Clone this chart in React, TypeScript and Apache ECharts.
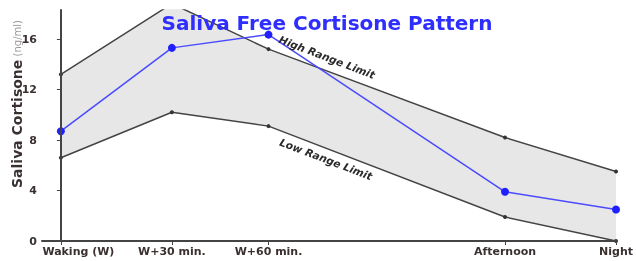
import React, { useEffect, useRef } from "react";
import * as echarts from "echarts";

const categories = ["Waking (W)", "W+30 min.", "W+60 min.", "Afternoon", "Night"];
const xPositions = [0, 1, 1.87, 4.0, 5.0];
const highLimit = [13.2, 18.8, 15.2, 8.2, 5.5];
const lowLimit = [6.6, 10.2, 9.1, 1.9, 0];
const patient = [8.7, 15.3, 16.35, 3.9, 2.5];
const yTicks = [0, 4, 8, 12, 16];

export default function App() {
  const ref = useRef<HTMLDivElement>(null);
  useEffect(() => {
    document.body.style.margin = "0";
    const chart = echarts.init(ref.current!, null, { renderer: "svg" });
    const pts = (vals: number[]) => xPositions.map((x, i) => [x, vals[i]]);
    const font = "DejaVu Sans";
    chart.setOption({
      animation: false,
      grid: { left: 42, right: 15, top: 10, bottom: 20, containLabel: false },
      xAxis: {
        type: "value",
        min: -0.17,
        max: 5.0,
        z: 10,
        splitLine: { show: false },
        axisLine: { lineStyle: { color: "#444", width: 2 } },
        axisTick: { customValues: xPositions, length: 4, lineStyle: { color: "#444" } },
        axisLabel: {
          customValues: xPositions,
          formatter: (v: number) => {
            const i = xPositions.findIndex((p) => Math.abs(p - v) < 1e-6);
            if (i < 0) return "";
            return i === 0 ? `{w|${categories[i]}}` : categories[i];
          },
          rich: {
            w: {
              padding: [0, 0, 0, 35],
              fontFamily: font,
              fontWeight: "bold",
              fontSize: 11,
              color: "#3a3030",
            },
          },
          fontFamily: font,
          fontWeight: "bold",
          fontSize: 11,
          color: "#3a3030",
          margin: 5,
        },
      },
      yAxis: {
        type: "value",
        min: 0,
        max: 18.3,
        z: 10,
        splitLine: { show: false },
        axisLine: { show: true, lineStyle: { color: "#444", width: 2 } },
        axisTick: { show: true, customValues: yTicks, length: 4, lineStyle: { color: "#444" } },
        axisLabel: {
          customValues: yTicks,
          fontFamily: font,
          fontWeight: "bold",
          fontSize: 11,
          color: "#3a3030",
          margin: 5,
        },
      },
      graphic: [
        {
          type: "text",
          x: 327,
          y: 23,
          style: {
            text: "Saliva Free Cortisone Pattern",
            font: `bold 20px '${font}'`,
            fill: "#2e2eff",
            align: "center",
            verticalAlign: "middle",
          },
          z: 10,
        },
        {
          type: "text",
          x: 17,
          y: 104,
          rotation: Math.PI / 2,
          style: {
            text: "{a|Saliva Cortisone} {b|(ng/ml)}",
            align: "center",
            verticalAlign: "middle",
            rich: {
              a: { fontFamily: font, fontWeight: "bold", fontSize: 14, fill: "#3a3030" },
              b: { fontFamily: font, fontSize: 10, fill: "#999" },
            },
          },
          z: 10,
        },
        {
          type: "text",
          x: 327,
          y: 57,
          rotation: -(21 * Math.PI) / 180,
          style: {
            text: "High Range Limit",
            font: `italic bold 10.5px '${font}'`,
            fill: "#2a2a2a",
            align: "center",
            verticalAlign: "middle",
          },
          z: 10,
        },
        {
          type: "text",
          x: 326,
          y: 159,
          rotation: -(21 * Math.PI) / 180,
          style: {
            text: "Low Range Limit",
            font: `italic bold 10.5px '${font}'`,
            fill: "#2a2a2a",
            align: "center",
            verticalAlign: "middle",
          },
          z: 10,
        },
      ],
      series: [
        {
          type: "line",
          data: pts(highLimit),
          symbol: "circle",
          symbolSize: 4,
          itemStyle: { color: "#333" },
          lineStyle: { color: "#444", width: 1.5 },
          areaStyle: { color: "#e7e7e7", opacity: 1 },
          z: 1,
        },
        {
          type: "line",
          data: pts(lowLimit),
          symbol: "circle",
          symbolSize: 4,
          itemStyle: { color: "#333" },
          lineStyle: { color: "#444", width: 1.5 },
          areaStyle: { color: "#ffffff", opacity: 1 },
          z: 2,
        },
        {
          type: "line",
          data: pts(patient),
          symbol: "circle",
          symbolSize: 8,
          itemStyle: { color: "#2020ff" },
          lineStyle: { color: "#4a4aff", width: 1.5 },
          z: 4,
        },
      ],
    });
    return () => chart.dispose();
  }, []);
  return (
    <div
      ref={ref}
      style={{ position: "fixed", left: 0, top: 0, width: 636, height: 261 }}
    />
  );
}
